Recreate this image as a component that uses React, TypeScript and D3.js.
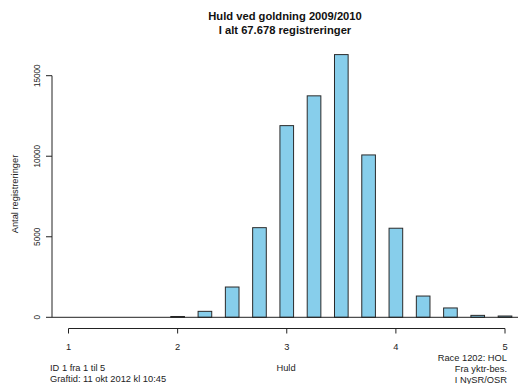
import React from "react";
import * as d3 from "d3";

// Huld score classes and the number of registrations in each
const huldClasses = [2.0, 2.25, 2.5, 2.75, 3.0, 3.25, 3.5, 3.75, 4.0, 4.25, 4.5, 4.75, 5.0];
const counts = [50, 370, 1880, 5565, 11900, 13750, 16310, 10080, 5530, 1320, 580, 120, 80];
const yTicks = [0, 5000, 10000, 15000];
const xTicks = [1, 2, 3, 4, 5];

const titleLines = ["Huld ved goldning 2009/2010", "I alt 67.678 registreringer"];
const footerLeft = ["ID 1 fra 1 til 5", "Graftid: 11 okt 2012 kl 10:45"];
const footerRight = ["Race 1202: HOL", "Fra yktr-bes.", "I NySR/OSR"];

const W = 523;
const H = 384;
const FONT = "'Liberation Sans', Arial, Helvetica, sans-serif";

export default function App() {
  const x = d3.scaleLinear().domain([1, 5]).range([68.5, 505]);
  const y = d3.scaleLinear().domain([0, 15000]).range([317.3, 75.7]);
  const barW = x(1.125) - x(1);
  const axisX = 52;
  const axisY = 328.5;
  const ink = "#222";

  return (
    <svg
      width={W}
      height={H}
      style={{ position: "absolute", left: 0, top: 0, background: "#fff" }}
      fontFamily={FONT}
    >
      {/* title */}
      {titleLines.map((t, i) => (
        <text
          key={t}
          x={285}
          y={20 + i * 13.5}
          textAnchor="middle"
          fontSize={11.2}
          fontWeight="bold"
          fill="#111"
        >
          {t}
        </text>
      ))}

      {/* bars */}
      {huldClasses.map((c, i) => (
        <rect
          key={c}
          x={x(c) - barW / 2}
          y={y(counts[i])}
          width={barW}
          height={y(0) - y(counts[i])}
          fill="#87CEEB"
          stroke="#2a2a2a"
          strokeWidth={1}
        />
      ))}

      {/* zero line */}
      <line x1={axisX} x2={518} y1={y(0)} y2={y(0)} stroke={ink} strokeWidth={1} />

      {/* y axis */}
      <line x1={axisX} x2={axisX} y1={y(0)} y2={y(15000)} stroke={ink} strokeWidth={1} />
      {yTicks.map((t) => (
        <g key={t}>
          <line x1={axisX - 6} x2={axisX} y1={y(t)} y2={y(t)} stroke={ink} strokeWidth={1} />
          <text
            transform={`translate(${40},${y(t)}) rotate(-90)`}
            textAnchor="middle"
            fontSize={8.2}
            fill="#222"
          >
            {t}
          </text>
        </g>
      ))}
      <text
        transform={`translate(${18},${194}) rotate(-90)`}
        textAnchor="middle"
        fontSize={9.3}
        fill="#222"
      >
        Antal registreringer
      </text>

      {/* x axis */}
      <line x1={x(1)} x2={x(5)} y1={axisY} y2={axisY} stroke={ink} strokeWidth={1} />
      {xTicks.map((t) => (
        <g key={t}>
          <line x1={x(t)} x2={x(t)} y1={axisY} y2={axisY + 5} stroke={ink} strokeWidth={1} />
          <text x={x(t)} y={349.5} textAnchor="middle" fontSize={9.3} fill="#222">
            {t}
          </text>
        </g>
      ))}
      <text x={286} y={371} textAnchor="middle" fontSize={9.3} fill="#222">
        Huld
      </text>

      {/* footer notes */}
      {footerLeft.map((t, i) => (
        <text key={t} x={50} y={371 + i * 11} fontSize={9.3} fill="#222">
          {t}
        </text>
      ))}
      {footerRight.map((t, i) => (
        <text key={t} x={507} y={360.5 + i * 11} textAnchor="end" fontSize={9.3} fill="#222">
          {t}
        </text>
      ))}
    </svg>
  );
}
